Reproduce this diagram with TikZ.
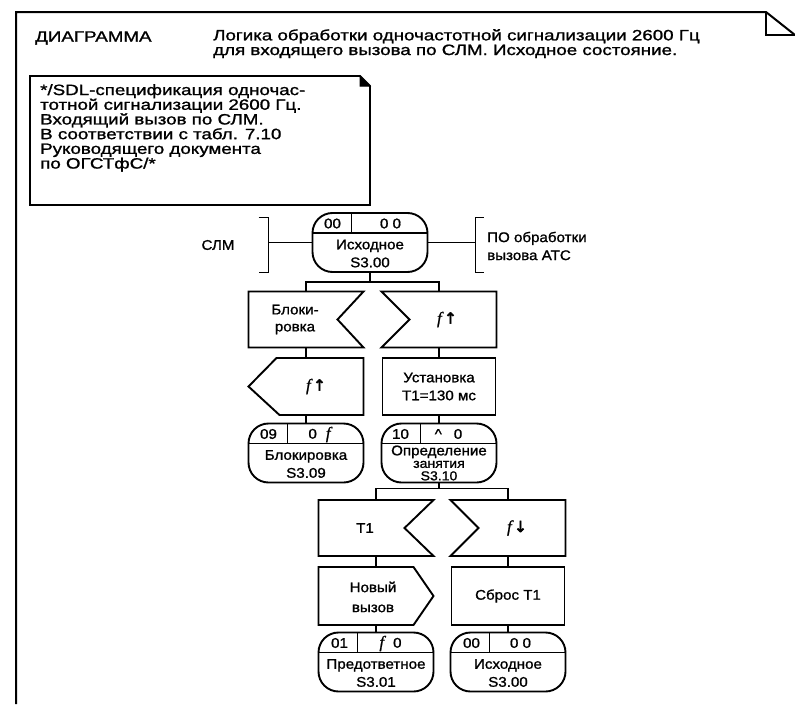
\documentclass[tikz,border=0pt]{standalone}
\usepackage{fontspec}
\setmainfont{Liberation Sans}[FakeStretch=1.08,FakeBold=1.2]
\newfontfamily\widefont{Liberation Sans}[FakeStretch=1.25,FakeBold=1.3]
\newfontfamily\arrowfont{DejaVu Sans}[FakeBold=3,Scale=1.1]
\newfontfamily\serifit{Liberation Serif}[Scale=1.2,FakeBold=1]
\usetikzlibrary{positioning,calc}
\newcommand{\ff}{{\serifit\itshape f}}
\newcommand{\fup}{\ff\,{\arrowfont ↑}}
\newcommand{\fdown}{\ff\,{\arrowfont ↓}}

\begin{document}
\begin{tikzpicture}[x=1pt,y=-1pt,
    every node/.style={font=\fontsize{14}{18}\selectfont},
    ln/.style={line width=1.9pt},
    state/.style={draw, line width=1.9pt, rounded corners=20pt, outer sep=0pt,
                  minimum width=115pt, minimum height=59pt, inner sep=0pt},
    cell/.style={inner sep=0pt},
    stxt/.style={align=center, inner sep=0pt},
    symbox/.style={minimum width=115pt, minimum height=56pt, inner sep=0pt, outer sep=0pt},
    task/.style={draw, line width=1.9pt, minimum width=113pt, minimum height=57pt,
                 inner sep=0pt, outer sep=0pt, align=center},
    hdr/.style={font=\widefont\fontsize{15}{14.7}\selectfont, inner sep=0pt, align=left}]
  \useasboundingbox (0,0) rectangle (795,704);

  % frame and header
  \draw[line width=2pt] (16,704) -- (16,12) -- (766,12) -- (795,35);
  \draw[line width=2pt] (766,12) -- (766,35) -- (795,35);
  \node[hdr, anchor=west] (dia) at (35,38) {ДИАГРАММА};
  \node[hdr, anchor=north west] (title) at (213,29)
    {Логика обработки одночастотной сигнализации 2600 Гц\\
     для входящего вызова по СЛМ. Исходное состояние.};

  % comment
  \node[hdr, anchor=north west] (note) at (40,84)
    {*/SDL-спецификация одночас-\\
     тотной сигнализации 2600 Гц.\\
     Входящий вызов по СЛМ.\\
     В соответствии с табл. 7.10\\
     Руководящего документа\\
     по ОГСТфС/*};
  \draw[ln] (30,76) -- (360,76) -- (370,86) -- (370,205) -- (30,205) -- cycle;
  \filldraw[line width=1pt] (360,76) -- (370,86) -- (360,86) -- cycle;

  % start state
  \node[state] (s0) at (370,242.5) {};
  \draw[ln] ($(s0.north west)+(0,20)$) -- ($(s0.north east)+(0,20)$);
  \draw[ln] ($(s0.north west)+(39,0)$) -- ++(0,20);
  \node[cell] (s0a) at ($(s0.north west)+(20,10.5)$) {00};
  \node[cell] (s0b) at ($(s0.north west)+(78,10.5)$) {0 0};
  \node[stxt] (s0c) at ($(s0.center)+(0,11)$) {Исходное\\S3.00};

  \node (slm) at (218,245) {СЛМ};
  \coordinate (brl) at ($(s0.west)+(-44,0)$);
  \draw[ln] ($(brl)+(-10,-25)$) -- ($(brl)+(0,-25)$) -- ($(brl)+(0,30)$) -- ($(brl)+(-10,30)$);
  \draw[ln] (s0.west) -- (brl);
  \node[anchor=west, align=left, inner sep=0pt] (po) at (487,246) {ПО обработки\\вызова АТС};
  \coordinate (brr) at ($(s0.east)+(48,0)$);
  \draw[ln] ($(brr)+(8,-25)$) -- ($(brr)+(0,-25)$) -- ($(brr)+(0,30)$) -- ($(brr)+(8,30)$);
  \draw[ln] (s0.east) -- (brr);

  % inputs
  \node[symbox] (b1) at (306,319.5) {};
  \draw[ln] (b1.north west) -- (b1.north east) -- ($(b1.east)+(-26,0)$)
    -- (b1.south east) -- (b1.south west) -- cycle;
  \node[stxt, font=\fontsize{14}{17}\selectfont] (b1t) at ($(b1.center)+(-11,0)$) {Блоки-\\ровка};
  \node[symbox] (b2) at (439,319.5) {};
  \draw[ln] (b2.north west) -- (b2.north east) -- (b2.south east)
    -- (b2.south west) -- ($(b2.west)+(28,0)$) -- cycle;
  \node (b2t) at ($(b2.center)+(8,0)$) {\fup};
  \draw[ln] (s0.south) -- ++(0,10);
  \draw[ln] (b1.north) |- ($(s0.south)+(0,10)$) -| (b2.north);

  % output and task
  \node[symbox, minimum height=57pt] (o1) at (306,386.5) {};
  \draw[ln] ($(o1.north west)+(28,0)$) -- (o1.north east) -- (o1.south east)
    -- ($(o1.south west)+(31,0)$) -- (o1.west) -- cycle;
  \node (o1t) at ($(o1.center)+(10,0)$) {\fup};
  \node[task] (t1) at (439,386.5) {Установка\\T1=130 мс};
  \draw[ln] (b1.south) -- (o1.north);
  \draw[ln] (b2.south) -- (t1.north);

  % states S3.09, S3.10
  \node[state] (s9) at (306,453) {};
  \draw[ln] ($(s9.north west)+(0,20)$) -- ($(s9.north east)+(0,20)$);
  \draw[ln] ($(s9.north west)+(39,0)$) -- ++(0,20);
  \node[cell] (s9a) at ($(s9.north west)+(20,10.5)$) {09};
  \node[cell] (s9b) at ($(s9.north west)+(71,11)$) {0\hspace{9pt}\ff};
  \node[stxt] (s9c) at ($(s9.center)+(0,11)$) {Блокировка\\S3.09};
  \node[state] (s10) at (439,453) {};
  \draw[ln] ($(s10.north west)+(0,20)$) -- ($(s10.north east)+(0,20)$);
  \draw[ln] ($(s10.north west)+(39,0)$) -- ++(0,20);
  \node[cell] (s10a) at ($(s10.north west)+(19,10.5)$) {10};
  \node[cell] (s10b) at ($(s10.north west)+(67,10.5)$) {\textasciicircum\hspace{12pt}0};
  \node[stxt, font=\fontsize{13}{12.5}\selectfont] (s10c) at ($(s10.center)+(0,10)$)
    {{\fontsize{14}{12.5}\selectfont Определение}\\занятия\\S3.10};
  \draw[ln] (o1.south) -- (s9.north);
  \draw[ln] (t1.south) -- (s10.north);

  % inputs T1, f down
  \node[symbox] (b3) at (376,528) {};
  \draw[ln] (b3.north west) -- (b3.north east) -- ($(b3.east)+(-29,0)$)
    -- (b3.south east) -- (b3.south west) -- cycle;
  \node (b3t) at ($(b3.center)+(-11,0)$) {T1};
  \node[symbox] (b4) at (508,528) {};
  \draw[ln] (b4.north west) -- (b4.north east) -- (b4.south east)
    -- (b4.south west) -- ($(b4.west)+(28,0)$) -- cycle;
  \node (b4t) at ($(b4.center)+(9,0)$) {\fdown};
  \draw[ln] (s10.south) -- ++(0,6);
  \draw[ln] (b3.north) |- ($(s10.south)+(0,6)$) -| (b4.north);

  % output and task
  \node[symbox, minimum height=58pt] (o2) at (376,596) {};
  \draw[ln] (o2.north west) -- ($(o2.north east)+(-20,0)$) -- (o2.east)
    -- ($(o2.south east)+(-20,0)$) -- (o2.south west) -- cycle;
  \node[stxt, font=\fontsize{14}{20}\selectfont] (o2t) at ($(o2.center)+(-3,1)$) {Новый\\вызов};
  \node[task, minimum height=58pt] (t2) at (508,596) {Сброс T1};
  \draw[ln] (b3.south) -- (o2.north);
  \draw[ln] (b4.south) -- (t2.north);

  % states S3.01, S3.00
  \node[state] (s1) at (376,662) {};
  \draw[ln] ($(s1.north west)+(0,20)$) -- ($(s1.north east)+(0,20)$);
  \draw[ln] ($(s1.north west)+(39,0)$) -- ++(0,20);
  \node[cell] (s1a) at ($(s1.north west)+(21,10.5)$) {01};
  \node[cell] (s1b) at ($(s1.north west)+(72,11)$) {\ff\hspace{9pt}0};
  \node[stxt] (s1c) at ($(s1.center)+(0,11)$) {Предответное\\S3.01};
  \node[state] (s00) at (508,662) {};
  \draw[ln] ($(s00.north west)+(0,20)$) -- ($(s00.north east)+(0,20)$);
  \draw[ln] ($(s00.north west)+(39,0)$) -- ++(0,20);
  \node[cell] (s00a) at ($(s00.north west)+(21,10.5)$) {00};
  \node[cell] (s00b) at ($(s00.north west)+(70,10.5)$) {0 0};
  \node[stxt] (s00c) at ($(s00.center)+(0,11)$) {Исходное\\S3.00};
  \draw[ln] (o2.south) -- (s1.north);
  \draw[ln] (t2.south) -- (s00.north);
\end{tikzpicture}
\end{document}
